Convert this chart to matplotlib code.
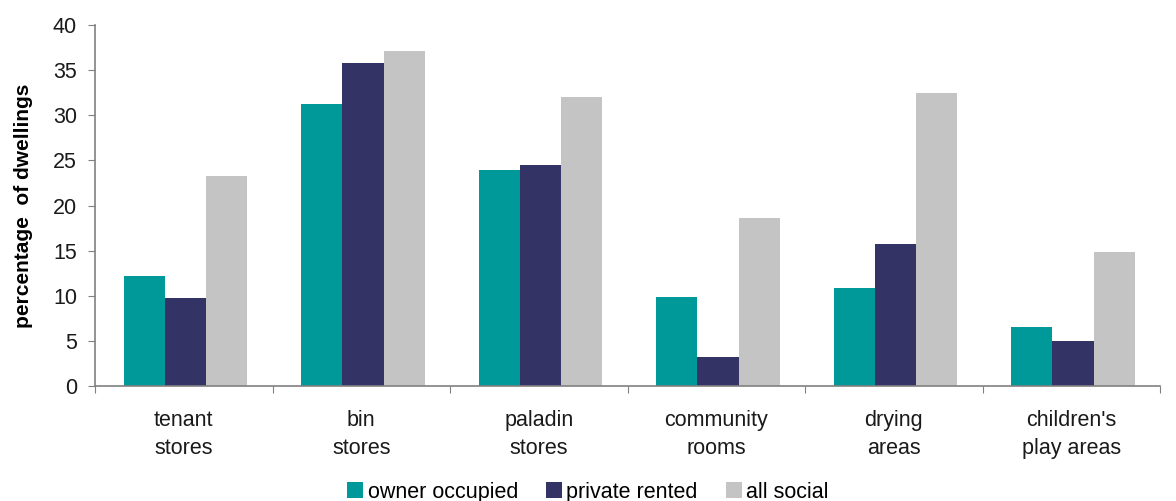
import numpy as np
import matplotlib.pyplot as plt

plt.rcParams['font.family'] = ['Liberation Sans', 'DejaVu Sans']

categories = ["tenant\nstores", "bin\nstores", "paladin\nstores", "community\nrooms", "drying\nareas", "children's\nplay areas"]
owner_occupied = [12.2, 31.2, 23.9, 9.9, 10.9, 6.5]
private_rented = [9.7, 35.8, 24.5, 3.2, 15.7, 5.0]
all_social = [23.3, 37.1, 32.0, 18.6, 32.5, 14.8]

series = [("owner occupied", owner_occupied, "#009999"),
          ("private rented", private_rented, "#333366"),
          ("all social", all_social, "#C4C4C4")]

fig = plt.figure(figsize=(11.76, 5.01), dpi=100)
ax = fig.add_axes([0.0808, 0.2295, 0.9056, 0.7205])

x = np.arange(len(categories))
w = 0.232
for i, (name, vals, col) in enumerate(series):
    ax.bar(x + (i - 1) * w + 0.01, vals, width=w, color=col, label=name)

ax.set_xlim(-0.5, len(categories) - 0.5)
ax.set_ylim(0, 40)
ax.set_yticks(range(0, 41, 5))
ax.set_xticks(np.arange(-0.5, len(categories), 1.0))
ax.set_xticklabels([])
ax.set_xticks(x, minor=True)
ax.set_xticklabels(categories, minor=True, fontsize=15.5, color="#1a1a1a", linespacing=1.45)
ax.tick_params(axis='x', which='minor', length=0, pad=17)
ax.tick_params(axis='x', which='major', length=5, color="#808080")
ax.tick_params(axis='y', length=5, color="#808080", labelsize=15.5, labelcolor="#1a1a1a", pad=8)

for s in ["top", "right"]:
    ax.spines[s].set_visible(False)
for s in ["left", "bottom"]:
    ax.spines[s].set_color("#808080")
    ax.spines[s].set_linewidth(1.2)

ax.set_ylabel("percentage  of dwellings", fontsize=15, fontweight="bold", labelpad=14)

fig.legend(loc="lower center", bbox_to_anchor=(0.5, -0.042), ncol=3, frameon=False,
           fontsize=15.5, handlelength=0.75, handleheight=0.75, handletextpad=0.2,
           columnspacing=1.3)

fig.savefig("out.png", dpi=100)
